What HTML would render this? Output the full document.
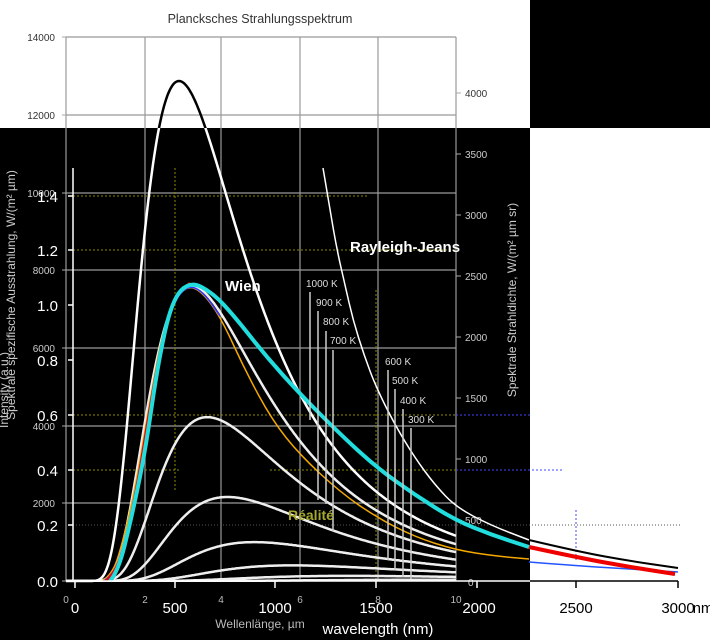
<!DOCTYPE html>
<html><head><meta charset="utf-8"><style>
html,body{margin:0;padding:0;width:710px;height:640px;overflow:hidden;background:#fff}
svg{display:block}
text{font-family:"Liberation Sans",Arial,sans-serif}
</style></head><body>
<svg id="s" width="710" height="640" viewBox="0 0 710 640" xmlns="http://www.w3.org/2000/svg">
<defs>
<clipPath id="top"><rect x="0" y="0" width="530" height="128"/></clipPath>
<clipPath id="blk"><rect x="0" y="128" width="530" height="512"/></clipPath>
<clipPath id="plot"><rect x="66" y="37" width="390" height="545"/></clipPath>
</defs>
<rect x="0" y="0" width="710" height="640" fill="#fff"/>
<rect x="0" y="128" width="530" height="512" fill="#000"/>
<rect x="530" y="0" width="180" height="128" fill="#000"/>
<text x="260" y="23" font-size="12.5" fill="#333" text-anchor="middle">Plancksches Strahlungsspektrum</text>
<g stroke="#999" stroke-width="1.2" fill="none">
<path d="M66 37V581M145 37V581M221 37V581M300 37V581M378 37V581M456 37V581"/>
<path d="M66 37H456M66 115H456M66 193H456M66 270H456M66 348H456M66 426H456M66 503H456"/>
</g>
<g stroke="#aaa" stroke-width="1" fill="none">
<path d="M62 37H66M62 115H66M62 193H66M62 270H66M62 348H66M62 426H66M62 503H66M62 581H66"/>
<path d="M456 93H461M456 154H461M456 215H461M456 276H461M456 337H461M456 398H461M456 459H461M456 520H461M456 581H461"/>
</g>
<g font-size="10" text-anchor="end">
<text x="55" y="41" fill="#333">14000</text><text x="55" y="119" fill="#333">12000</text>
<text x="55" y="197" fill="#ccc">10000</text><text x="55" y="274" fill="#ccc">8000</text>
<text x="55" y="352" fill="#ccc">6000</text><text x="55" y="430" fill="#ccc">4000</text>
<text x="55" y="507" fill="#ccc">2000</text>
</g>
<g font-size="10">
<text x="465" y="97" fill="#333">4000</text><text x="465" y="158" fill="#ccc">3500</text>
<text x="465" y="219" fill="#ccc">3000</text><text x="465" y="280" fill="#ccc">2500</text>
<text x="465" y="341" fill="#ccc">2000</text><text x="465" y="402" fill="#ccc">1500</text>
<text x="465" y="463" fill="#ccc">1000</text><text x="465" y="524" fill="#ccc">500</text>
<text x="468" y="586" fill="#ccc">0</text>
</g>
<!-- dotted lines -->
<g stroke="#8a8a00" stroke-width="1" stroke-dasharray="2,2" fill="none">
<path d="M73 196H368M73 250H456M73 415H456M73 470H180M270 470H456M175 168V490M376 290V581"/>
</g>
<path d="M456 415H530M456 470H563" stroke="#44f" stroke-width="1" stroke-dasharray="2,2"/>
<path d="M73 525H680" stroke="#555" stroke-width="1" stroke-dasharray="1,2"/>
<path d="M576 510V560" stroke="#44f" stroke-width="1" stroke-dasharray="2,2"/>
<g id="curves"></g>
<!-- second axis -->
<path d="M73 168V581" stroke="#fff" stroke-width="1.5"/>
<path d="M66 581H678" stroke="#fff" stroke-width="1.5" clip-path="url(#blk)"/>
<path d="M530 581H678" stroke="#000" stroke-width="1.5"/>
<g stroke="#fff" stroke-width="1.5"><path d="M68 196H73M68 250H73M68 305H73M68 360H73M68 415H73M68 470H73M68 525H73M68 581H73"/></g>
<g stroke="#fff" stroke-width="1.5"><path d="M75 581V588M175 581V588M275 581V588M376 581V588M477 581V588"/></g>
<g stroke="#000" stroke-width="1.5"><path d="M576 581V588M678 581V588"/></g>
<g font-size="15" fill="#fff" text-anchor="end">
<text x="58" y="202">1.4</text><text x="58" y="256">1.2</text><text x="58" y="311">1.0</text>
<text x="58" y="366">0.8</text><text x="58" y="421">0.6</text><text x="58" y="476">0.4</text>
<text x="58" y="531">0.2</text><text x="58" y="587">0.0</text>
</g>
<g font-size="10" fill="#bbb" text-anchor="middle">
<text x="66" y="603">0</text><text x="145" y="603">2</text><text x="221" y="603">4</text>
<text x="300" y="603">6</text><text x="378" y="603">8</text><text x="456" y="603">10</text>
</g>
<g font-size="15" text-anchor="middle">
<text x="75" y="613" fill="#fff">0</text><text x="175" y="613" fill="#fff">500</text>
<text x="275" y="613" fill="#fff">1000</text><text x="376" y="613" fill="#fff">1500</text>
<text x="479" y="613" fill="#fff">2000</text><text x="576" y="613" fill="#000">2500</text>
<text x="678" y="613" fill="#000">3000</text><text x="703" y="613" fill="#000">nm</text>
</g>
<text x="260" y="628" font-size="12" fill="#bbb" text-anchor="middle">Wellenlänge, µm</text>
<text x="378" y="634" font-size="15" fill="#fff" text-anchor="middle">wavelength (nm)</text>
<text transform="translate(15,295) rotate(-90)" font-size="12" fill="#ccc" text-anchor="middle">Spektrale spezifische Ausstrahlung, W/(m² µm)</text>
<text transform="translate(8,390) rotate(-90)" font-size="12" fill="#ccc" text-anchor="middle">Intensity (a.u.)</text>
<text transform="translate(516,300) rotate(-90)" font-size="12" fill="#ccc" text-anchor="middle">Spektrale Strahldichte, W/(m² µm sr)</text>
<!-- temperature labels -->
<g stroke="#ccc" stroke-width="1.5">
<path d="M310 292V420M318 311V500M326 331V504M333 350V531M388 370V560M395 389V570M403 409V577M411 428V579"/>
</g>
<g font-size="10" fill="#ddd">
<text x="306" y="287">1000 K</text><text x="316" y="306">900 K</text><text x="323" y="325">800 K</text>
<text x="330" y="344">700 K</text><text x="385" y="365">600 K</text><text x="392" y="384">500 K</text>
<text x="400" y="404">400 K</text><text x="408" y="423">300 K</text>
</g>
<text x="350" y="252" font-size="15" font-weight="bold" fill="#fff">Rayleigh-Jeans</text>
<text x="225" y="291" font-size="15" font-weight="bold" fill="#fff">Wien</text>
<text x="288" y="520" font-size="14" font-weight="bold" fill="#a8a830">Réalité</text>
</svg>
<script>
var g=document.getElementById('curves');
function P(l,T){return 3.7418e8/Math.pow(l,5)/(Math.exp(14388/(l*T))-1);}
function add(d,c,w,clip){var p=document.createElementNS('http://www.w3.org/2000/svg','path');p.setAttribute('d',d);p.setAttribute('stroke',c);p.setAttribute('stroke-width',w);p.setAttribute('fill','none');if(clip)p.setAttribute('clip-path',clip);g.appendChild(p);}
function planck(T){var d='';for(var x=66;x<=456;x+=1){var l=(x-66)/39;var v=l<=0.05?0:P(l,T);var y=581-v*0.03886;d+=(x==66?'M':'L')+x+' '+y.toFixed(1);}return d;}
function poly(pts){var d='M'+pts[0][0]+' '+pts[0][1];for(var i=1;i<pts.length-1;i++){var mx=(pts[i][0]+pts[i+1][0])/2,my=(pts[i][1]+pts[i+1][1])/2;d+='Q'+pts[i][0]+' '+pts[i][1]+' '+mx+' '+my;}var L=pts[pts.length-1];d+='L'+L[0]+' '+L[1];return d;}
[300,400,500,600,700,800,900].forEach(function(T){add(planck(T),'#eee',2.5,'url(#plot)');});
add(planck(1000),'#fff',2.5,'url(#blk)');
add(planck(1000),'#000',2.5,'url(#top)');
// Rayleigh-Jeans
add(poly([[323,168],[330,210],[337,250],[345,285],[353,320],[364,355],[376,387],[395,425],[415,458],[435,485],[456,507],[490,525],[529,540]]),'#fff',1.5);
add(poly([[529,540],[580,552],[630,561],[678,568]]),'#000',2);
// yellow
add(poly([[102,581],[112,575],[122,545],[135,490],[150,400],[163,330],[176,297],[190,285],[205,295],[222,320],[245,370],[272,420],[300,455],[340,492],[376,517],[415,537],[456,550],[495,556],[529,559]]),'#f5a800',1.5);
// blue tail
add(poly([[529,562],[580,566],[630,569],[678,572]]),'#2255ff',1.5);
add(poly([[104,581],[114,574],[124,545],[136,490],[151,400],[164,330],[177,296],[190,285],[204,293],[220,316]]),'#33f',1.5);
// red
add(poly([[106,581],[116,572],[126,540],[137,488],[151,400],[164,330],[177,294],[190,283]]),'#e00',2.5);
add(poly([[529,547],[580,558],[630,567],[675,574]]),'#e00',4);
// cyan
add(poly([[110,581],[118,572],[131,520],[145,453],[158,363],[172,300],[190,281],[213,293],[235,317],[265,355],[299,393],[340,434],[376,467],[415,495],[455,520],[492,535],[529,547]]),'#2dd',4);
</script>
</body></html>
